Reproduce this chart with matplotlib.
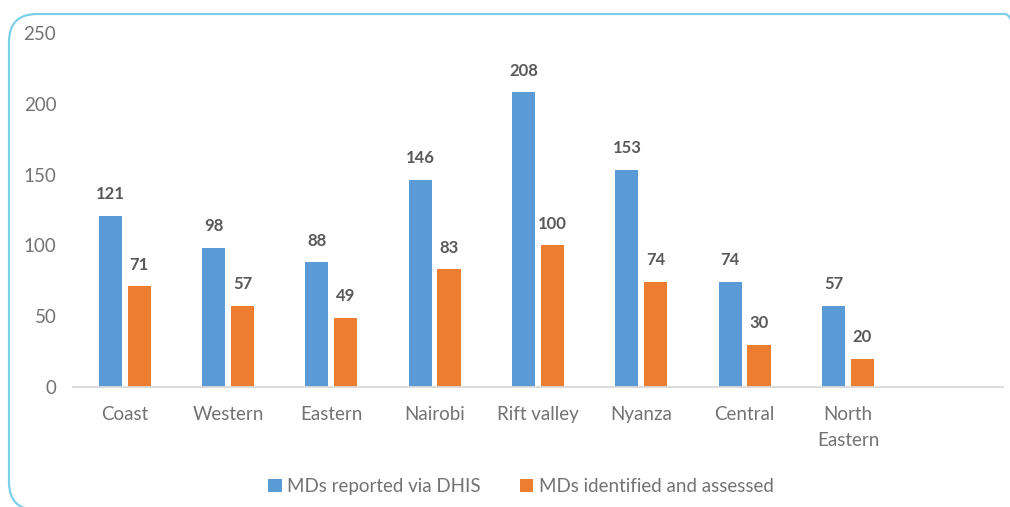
import matplotlib

matplotlib.use("Agg")

import matplotlib.pyplot as plt
import numpy as np
from matplotlib.patches import FancyBboxPatch

regions = ["Coast", "Western", "Eastern", "Nairobi", "Rift valley", "Nyanza",
           "Central", "North\nEastern", ""]
reported_dhis = [121, 98, 88, 146, 208, 153, 74, 57]
identified = [71, 57, 49, 83, 100, 74, 30, 20]
series_names = ["MDs reported via DHIS", "MDs identified and assessed"]
y_ticks = [0, 50, 100, 150, 200, 250]

BLUE = "#5B9BD5"
ORANGE = "#ED7D31"
TICK_GRAY = "#737373"
LABEL_GRAY = "#595959"

plt.rcParams["font.family"] = ["Lato", "DejaVu Sans"]

fig = plt.figure(figsize=(10.10, 5.07), dpi=100)
ax = fig.add_axes([0.0723, 0.2367, 0.9207, 0.6982])

x = np.arange(len(regions))
n = len(reported_dhis)
bar_w = 0.225
offset = 0.14

b1 = ax.bar(x[:n] - offset, reported_dhis, bar_w, color=BLUE, label=series_names[0])
b2 = ax.bar(x[:n] + offset, identified, bar_w, color=ORANGE, label=series_names[1])

for bars in (b1, b2):
    for rect in bars:
        ax.annotate(f"{int(rect.get_height())}",
                    (rect.get_x() + rect.get_width() / 2, rect.get_height()),
                    xytext=(0, 10), textcoords="offset points",
                    ha="center", va="bottom", fontsize=12, fontweight="bold",
                    color=LABEL_GRAY)

ax.set_xlim(-0.5, len(regions) - 0.5)
ax.set_ylim(0, 250)
ax.set_yticks(y_ticks)
ax.set_xticks(x)
ax.set_xticklabels(regions, linespacing=1.6, va="top")
ax.tick_params(axis="both", length=0, labelsize=13.5, labelcolor=TICK_GRAY)
ax.tick_params(axis="x", pad=14)
ax.tick_params(axis="y", pad=12)

for side in ("top", "right", "left"):
    ax.spines[side].set_visible(False)
ax.spines["bottom"].set_color("#D9D9D9")
ax.spines["bottom"].set_linewidth(1.3)

fig.legend(handles=[b1, b2], loc="center", bbox_to_anchor=(0.516, 0.041),
           ncol=2, frameon=False, fontsize=13.5, labelcolor=TICK_GRAY,
           handlelength=0.7, handleheight=0.7, handletextpad=0.3,
           columnspacing=2.1)

# rounded light-blue frame, partly running off the right and bottom edges
frame = FancyBboxPatch((0.09, -0.03), 10.24, 4.96,
                       boxstyle="round,pad=0,rounding_size=0.28",
                       transform=fig.dpi_scale_trans, fill=False,
                       edgecolor="#7DD0EA", linewidth=1.6, zorder=0)
fig.patches.append(frame)

fig.savefig("out.png", dpi=100)
